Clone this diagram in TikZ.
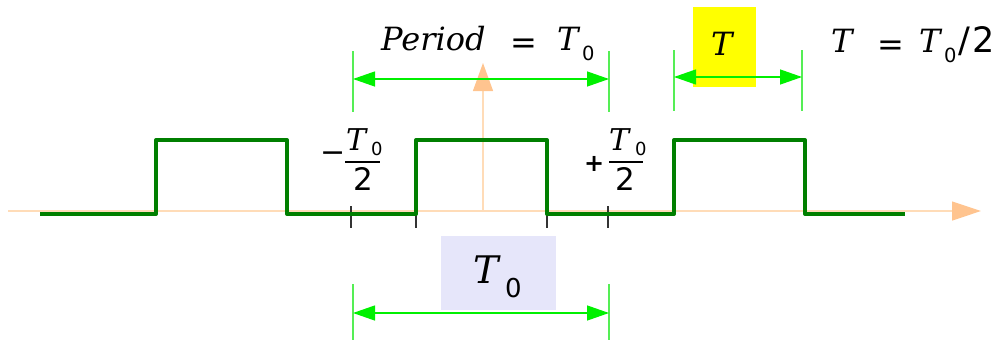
\documentclass[tikz,border=0pt]{standalone}
\usepackage{fontspec}
\newfontfamily\vf{DejaVu Serif}
\newfontfamily\df{DejaVu Sans}
\usetikzlibrary{arrows.meta}
\definecolor{axisc}{HTML}{FFDCB8}
\definecolor{axish}{HTML}{FFC48F}
\definecolor{dimc}{HTML}{00F000}
\definecolor{extc}{HTML}{55EE55}
\definecolor{tickc}{HTML}{333333}
\definecolor{sigc}{HTML}{007F00}
\definecolor{yel}{HTML}{FFFF00}
\definecolor{lav}{HTML}{E6E6FA}
\begin{document}
\begin{tikzpicture}[x=1pt,y=-1pt,
  axisline/.style={draw=axisc, line width=1.2pt},
  dimline/.style={draw=dimc, line width=1.3pt, {Triangle[length=22pt,width=15pt]}-{Triangle[length=22pt,width=15pt]}},
  extline/.style={draw=extc, line width=1.3pt},
  tickline/.style={draw=tickc, line width=1.1pt},
  sigline/.style={draw=sigc, line width=4pt, line join=round},
  itx/.style={inner sep=0pt, anchor=base west, font=\vf\itshape\fontsize{#1}{#1}\selectfont},
  rmx/.style={inner sep=0pt, anchor=base west, font=\df\fontsize{#1}{#1}\selectfont},
  bfx/.style={inner sep=0pt, anchor=base west, font=\df\bfseries\fontsize{#1}{#1}\selectfont},
]
\useasboundingbox (0,0) rectangle (1003,340);
% axes
\coordinate (xs) at (8,211);
\coordinate (xe) at (981,211);
\coordinate (ys) at (483,211);
\coordinate (ye) at (483,63);
\draw[axisline, -{Triangle[length=29pt,width=19pt,color=axish]}] (xs) -- (xe);
\draw[axisline, -{Triangle[length=28pt,width=20pt,color=axish]}] (ys) -- (ye);
% ticks
\foreach \x in {351,416,547,608} \draw[tickline] (\x,206) -- (\x,228);
% signal
\draw[sigline] (40,214) -- (156,214) -- (156,140) -- (287,140) -- (287,214) -- (416,214) -- (416,140) -- (547,140) -- (547,214) -- (674,214) -- (674,140) -- (805,140) -- (805,214) -- (905,214);
% boxes
\fill[yel] (693,7) rectangle (756,87);
\fill[lav] (441,236) rectangle (556,310);
% extension lines
\coordinate (a1) at (353,51); \coordinate (a2) at (353,112);
\coordinate (b1) at (609,51); \coordinate (b2) at (609,112);
\coordinate (c1) at (674,50); \coordinate (c2) at (674,111);
\coordinate (d1) at (802,50); \coordinate (d2) at (802,111);
\coordinate (e1) at (353,284); \coordinate (e2) at (353,340);
\coordinate (f1) at (609,284); \coordinate (f2) at (609,340);
\foreach \p/\q in {a1/a2,b1/b2,c1/c2,d1/d2,e1/e2,f1/f2} \draw[extline] (\p) -- (\q);
% dimension arrows
\draw[dimline] (353,79) -- (609,79);
\draw[dimline] (674,77) -- (802,77);
\draw[dimline] (353,313) -- (609,313);
% top label
\node[itx=32] (per) at (381,50) {Period};
\node[rmx=32] (eq1) at (510,53) {=};
\node[itx=32] (t1) at (557,50) {T};
\node[rmx=19.5] (z1) at (582,60) {0};
% yellow T
\node[itx=32] (ty) at (711,55) {T};
% right formula
\node[itx=32] (t2) at (831,52) {T};
\node[rmx=32] (eq2) at (877,55) {=};
\node[itx=32] (t3) at (919,52) {T};
\node[rmx=19.5] (z3) at (944,62) {0};
\node[rmx=35] (sl) at (958,52) {/};
\node[rmx=35] (tw) at (972,52) {2};
% left fraction
\node[rmx=30] (mn) at (320,162) {−};
\node[itx=30] (tl) at (346,150) {T};
\node[rmx=18] (zl) at (371,155) {0};
\draw[line width=1.8pt] (345,162) -- (380,162);
\node[rmx=31] (twl) at (353,190) {2};
% right fraction
\node[bfx=24] (pl) at (584,171) {+};
\node[itx=30] (tr) at (609,150) {T};
\node[rmx=18] (zr) at (635,155) {0};
\draw[line width=1.8pt] (609,162) -- (643,162);
\node[rmx=31] (twr) at (615,190) {2};
% bottom T0
\node[itx=38] (tb) at (473,283) {T};
\node[rmx=26] (zb) at (505,297) {0};
\end{tikzpicture}
\end{document}
